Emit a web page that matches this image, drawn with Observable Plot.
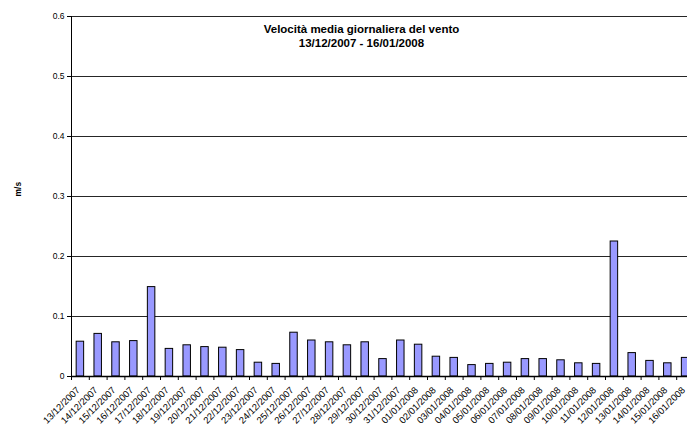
<!DOCTYPE html>
<html>
<head>
<meta charset="utf-8">
<script src="https://cdn.jsdelivr.net/npm/d3@7"></script>
<script src="https://cdn.jsdelivr.net/npm/@observablehq/plot@0.6"></script>
<style>
  html, body { margin: 0; padding: 0; background: #fff; overflow: hidden; }
  #chart svg { display: block; }
</style>
</head>
<body>
<div id="chart"></div>
<script>
const dates = [
  "13/12/2007","14/12/2007","15/12/2007","16/12/2007","17/12/2007","18/12/2007","19/12/2007",
  "20/12/2007","21/12/2007","22/12/2007","23/12/2007","24/12/2007","25/12/2007","26/12/2007",
  "27/12/2007","28/12/2007","29/12/2007","30/12/2007","31/12/2007","01/01/2008","02/01/2008",
  "03/01/2008","04/01/2008","05/01/2008","06/01/2008","07/01/2008","08/01/2008","09/01/2008",
  "10/01/2008","11/01/2008","12/01/2008","13/01/2008","14/01/2008","15/01/2008","16/01/2008"
];
const values = [
  0.058, 0.071, 0.057, 0.059, 0.149, 0.046, 0.052,
  0.049, 0.048, 0.044, 0.023, 0.021, 0.073, 0.060,
  0.057, 0.052, 0.057, 0.029, 0.060, 0.053, 0.033,
  0.031, 0.019, 0.021, 0.023, 0.029, 0.029, 0.027,
  0.022, 0.021, 0.225, 0.039, 0.026, 0.022, 0.031
];
const yTicks = [0, 0.1, 0.2, 0.3, 0.4, 0.5, 0.6];
const titleLines = ["Velocità media giornaliera del vento", "13/12/2007 - 16/01/2008"];
const yLabel = "m/s";

const data = dates.map((d, i) => ({date: d, value: values[i]}));

const W = 694, ML = 71, MR = 0;
const padInner = 0.58, padOuter = padInner / 2;
const step = (W - ML - MR) / (dates.length - padInner + 2 * padOuter);

const chart = Plot.plot({
  width: W,
  height: 426,
  marginLeft: ML,
  marginRight: MR,
  marginTop: 16,
  marginBottom: 50,
  style: {fontFamily: "'Liberation Sans', Arial, sans-serif", fontSize: "8.5px", background: "#fff", maxWidth: "none", color: "#000"},
  x: {type: "band", domain: dates, paddingInner: padInner, paddingOuter: padOuter, round: false, axis: null},
  y: {domain: [0, 0.6], axis: null},
  marks: [
    Plot.gridY(yTicks.slice(1), {stroke: "#000", strokeOpacity: 0.85}),
    Plot.barY(data, {x: "date", y: "value", fill: "#9999ff", stroke: "#000", strokeWidth: 1}),
    Plot.ruleY([0], {stroke: "#000", strokeWidth: 1.5}),
    Plot.frame({anchor: "left", stroke: "#000"}),
    Plot.axisY({ticks: yTicks, tickSize: 4, tickPadding: 3, label: null, tickFormat: d => d === 0 ? "0" : d.toFixed(1), fontSize: 8.5}),
    Plot.axisX({ticks: dates, tickSize: 4, label: null, tickFormat: () => "", dx: -step / 2, anchor: "bottom"}),
    Plot.text(dates, {x: d => d, y: () => 0, text: d => d, rotate: -45, textAnchor: "end", dy: 12, dx: -2, fontSize: 9.5, ariaLabel: "xlabels"}),
    Plot.text([titleLines.join("\n")], {frameAnchor: "top", lineAnchor: "top", dx: -21.5, dy: 7, fontWeight: "bold", fontSize: 11.5, lineHeight: 1.17}),
    Plot.text([yLabel], {frameAnchor: "left", dx: -53, rotate: -90, fontWeight: "bold", fontSize: 8.5})
  ]
});
d3.select(chart).selectAll('g[aria-label="xlabels"] text').attr("letter-spacing", "0.6px");
document.getElementById("chart").appendChild(chart);
</script>
</body>
</html>
